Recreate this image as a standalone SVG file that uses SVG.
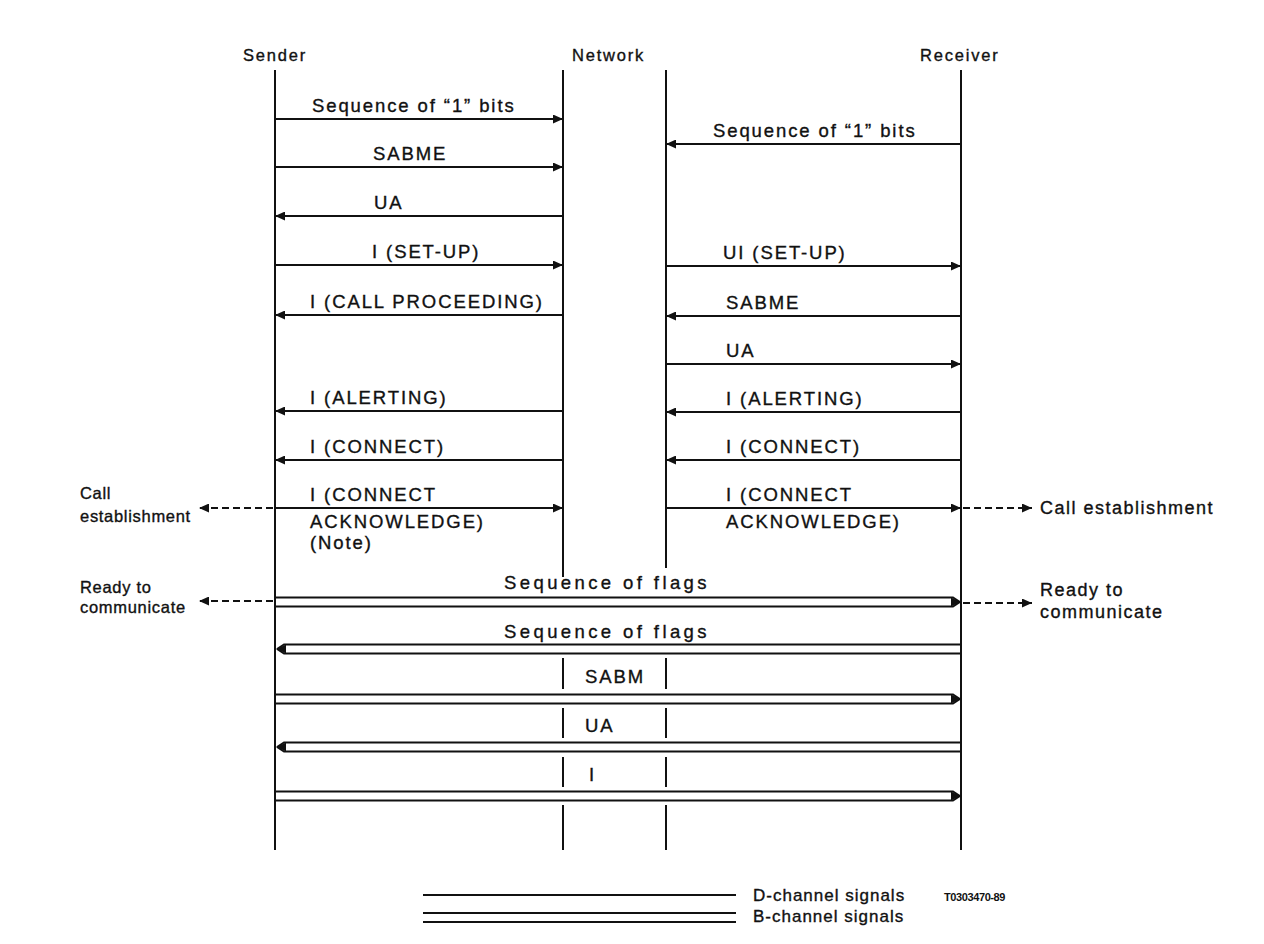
<svg xmlns="http://www.w3.org/2000/svg" width="1264" height="944" viewBox="0 0 1264 944">
<style>
text{font-family:"Liberation Sans",Arial,sans-serif;fill:#111;stroke:#111;stroke-width:0.35px}
.m{font-size:18.5px;letter-spacing:1.9px}
.f{font-size:18.5px;letter-spacing:3.4px}
.h{font-size:16.5px;letter-spacing:1.8px}
.sl{font-size:16.5px;letter-spacing:0.7px}
.sr{font-size:18px;letter-spacing:1.5px}
.lg{font-size:17px;letter-spacing:1px}
.code{font-size:11px;font-weight:bold;letter-spacing:-0.4px;stroke-width:0}
.life{stroke:#111;stroke-width:2;fill:none}
.a{stroke:#111;stroke-width:2;fill:none;marker-end:url(#ah)}
.d{stroke:#111;stroke-width:2;fill:none;stroke-dasharray:7 4;marker-end:url(#ah)}
.b{stroke:#111;stroke-width:1.8;fill:none}
.tip{fill:#111}
</style>
<defs>
<marker id="ah" markerUnits="userSpaceOnUse" markerWidth="10" markerHeight="9" refX="10" refY="4.5" orient="auto">
<path d="M0,0 L10,4.5 L0,9 Z" fill="#111"/>
</marker>
</defs>
<rect width="1264" height="944" fill="#fff"/>

<g id="sender">
<text class="h" x="243" y="61">Sender</text>
<line class="life" x1="275" y1="70" x2="275" y2="850"/>
</g>
<g id="network">
<text class="h" x="572" y="61">Network</text>
<line class="life" x1="563" y1="70" x2="563" y2="577"/>
<line class="life" x1="666" y1="70" x2="666" y2="568"/>
<path class="life" d="M563,658 V689 M563,708 V738 M563,757 V787 M563,805 V850 M666,658 V689 M666,708 V738 M666,757 V787 M666,805 V850"/>
</g>
<g id="receiver">
<text class="h" x="920" y="61">Receiver</text>
<line class="life" x1="961" y1="70" x2="961" y2="850"/>
</g>
<g id="side-labels">
<text class="sl" x="80" y="499">Call</text>
<text class="sl" x="80" y="522">establishment</text>
<text class="sl" x="80" y="593">Ready to</text>
<text class="sl" x="80" y="613">communicate</text>
<text class="sr" x="1040" y="514">Call establishment</text>
<text class="sr" x="1040" y="596">Ready to</text>
<text class="sr" x="1040" y="618">communicate</text>
</g>

<g id="connectors">
<line class="a" x1="275" y1="119" x2="563" y2="119"/>
<line class="a" x1="961" y1="144" x2="666" y2="144"/>
<line class="a" x1="275" y1="167" x2="563" y2="167"/>
<line class="a" x1="563" y1="216" x2="275" y2="216"/>
<line class="a" x1="275" y1="265" x2="563" y2="265"/>
<line class="a" x1="666" y1="266" x2="961" y2="266"/>
<line class="a" x1="563" y1="315" x2="275" y2="315"/>
<line class="a" x1="961" y1="316" x2="666" y2="316"/>
<line class="a" x1="666" y1="364" x2="961" y2="364"/>
<line class="a" x1="563" y1="411" x2="275" y2="411"/>
<line class="a" x1="961" y1="412" x2="666" y2="412"/>
<line class="a" x1="563" y1="460" x2="275" y2="460"/>
<line class="a" x1="961" y1="460" x2="666" y2="460"/>
<line class="a" x1="275" y1="508" x2="563" y2="508"/>
<line class="a" x1="666" y1="508" x2="961" y2="508"/>
<line class="d" x1="273" y1="508" x2="199" y2="508"/>
<line class="d" x1="963" y1="508" x2="1032" y2="508"/>
<line class="d" x1="273" y1="601" x2="199" y2="601"/>
<line class="d" x1="963" y1="603" x2="1032" y2="603"/>
<path class="b" d="M276,597.5 H953 L960,602 M276,606.5 H953 L960,602"/>
<path class="tip" d="M951,597.5 L961,602 L951,606.5 Z"/>
<path class="b" d="M960,644.5 H284 L277,649 M960,653.5 H284 L277,649"/>
<path class="tip" d="M286,644.5 L276,649 L286,653.5 Z"/>
<path class="b" d="M276,694.5 H953 L960,699 M276,703.5 H953 L960,699"/>
<path class="tip" d="M951,694.5 L961,699 L951,703.5 Z"/>
<path class="b" d="M960,742.5 H284 L277,747 M960,751.5 H284 L277,747"/>
<path class="tip" d="M286,742.5 L276,747 L286,751.5 Z"/>
<path class="b" d="M276,791.5 H953 L960,796 M276,800.5 H953 L960,796"/>
<path class="tip" d="M951,791.5 L961,796 L951,800.5 Z"/>
</g>

<g id="message-labels">
<text class="m" x="312" y="112">Sequence of “1” bits</text>
<text class="m" x="713" y="137">Sequence of “1” bits</text>
<text class="m" x="373" y="160">SABME</text>
<text class="m" x="374" y="209">UA</text>
<text class="m" x="372" y="258">I (SET-UP)</text>
<text class="m" x="723" y="259">UI (SET-UP)</text>
<text class="m" x="310" y="308">I (CALL PROCEEDING)</text>
<text class="m" x="726" y="309">SABME</text>
<text class="m" x="726" y="357">UA</text>
<text class="m" x="310" y="404">I (ALERTING)</text>
<text class="m" x="726" y="405">I (ALERTING)</text>
<text class="m" x="310" y="453">I (CONNECT)</text>
<text class="m" x="726" y="453">I (CONNECT)</text>
<text class="m" x="310" y="501">I (CONNECT</text>
<text class="m" x="310" y="528">ACKNOWLEDGE)</text>
<text class="m" x="310" y="549">(Note)</text>
<text class="m" x="726" y="501">I (CONNECT</text>
<text class="m" x="726" y="528">ACKNOWLEDGE)</text>
<text class="f" x="607" y="589" text-anchor="middle">Sequence of flags</text>
<text class="f" x="607" y="638" text-anchor="middle">Sequence of flags</text>
<text class="m" x="585" y="683">SABM</text>
<text class="m" x="585" y="732">UA</text>
<text class="m" x="589" y="781">I</text>
</g>

<g id="legend">
<line x1="423" y1="895" x2="736" y2="895" stroke="#111" stroke-width="2"/>
<text class="lg" x="753" y="901">D-channel signals</text>
<text class="code" x="944" y="901">T0303470-89</text>
<line x1="423" y1="913" x2="736" y2="913" stroke="#111" stroke-width="2"/>
<line x1="423" y1="922" x2="736" y2="922" stroke="#111" stroke-width="2"/>
<text class="lg" x="753" y="922">B-channel signals</text>
</g>
</svg>
